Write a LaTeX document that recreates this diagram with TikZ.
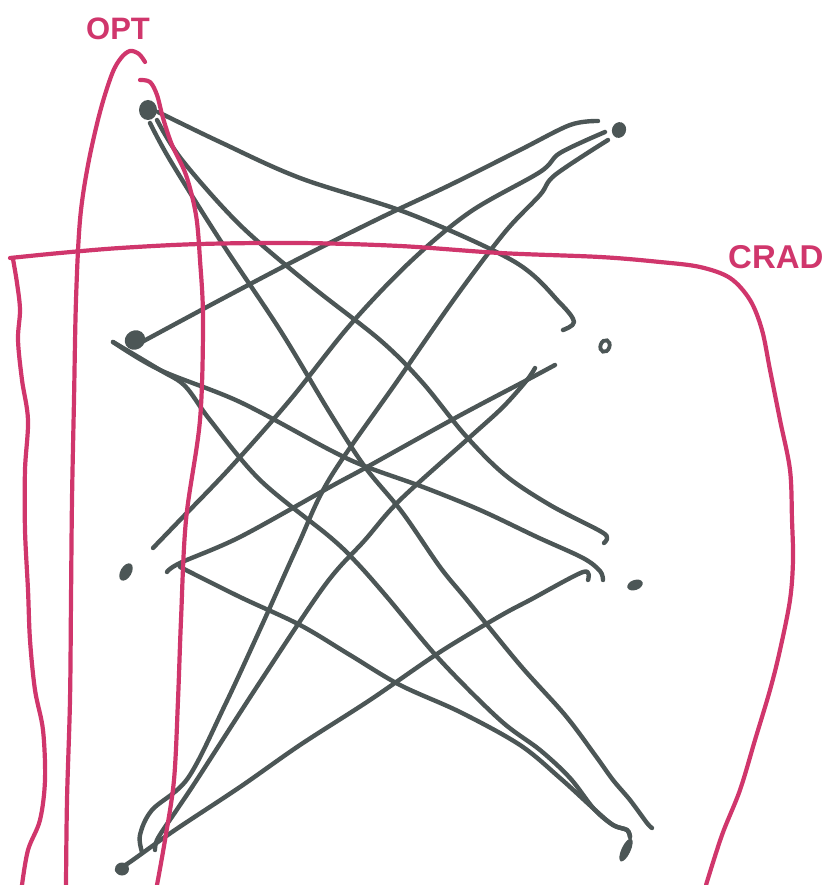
\documentclass[tikz,border=0pt]{standalone}
\usepackage{fontspec}
\setsansfont{Liberation Sans}
\usetikzlibrary{shapes.geometric}
\definecolor{ink}{RGB}{76,86,86}
\definecolor{pen}{RGB}{208,54,108}
\begin{document}
\begin{tikzpicture}[x=1pt,y=-1pt,
  edge/.style={draw=ink,line width=4.4pt,line cap=round,line join=round},
  loopline/.style={draw=pen,line width=4.2pt,line cap=round,line join=round},
  dot/.style={ellipse,fill=ink,inner sep=0pt},
  ring/.style={ellipse,draw=ink,line width=3.8pt,inner sep=0pt},
  lab/.style={text=pen,inner sep=0pt,anchor=base west}]
\useasboundingbox (0,0) rectangle (832,885);

% vertices
\node[dot,minimum width=18pt,minimum height=20pt] (L1) at (148,110) {};
\node[dot,minimum width=21pt,minimum height=19pt,rotate=30] (L2) at (135,340) {};
\node[dot,minimum width=11pt,minimum height=19pt,rotate=-30] (L3) at (126,572) {};
\node[dot,minimum width=14pt,minimum height=13pt] (L4) at (122,869) {};
\node[dot,minimum width=14pt,minimum height=16pt,rotate=-20] (R1) at (619,130) {};
\node[ring,minimum width=9pt,minimum height=12pt,rotate=-20] (R2) at (605,346) {};
\node[dot,minimum width=16pt,minimum height=10pt,rotate=20] (R3) at (635,585) {};
\node[dot,minimum width=9pt,minimum height=25pt,rotate=-25] (R4) at (626,850) {};

% stroke ends
\coordinate (s12) at (158,112); \coordinate (t12) at (563,330);
\coordinate (s13) at (157,120); \coordinate (t13) at (604,543);
\coordinate (s14) at (150,123); \coordinate (t14) at (652,828);
\coordinate (s21) at (140,343); \coordinate (t21) at (598,121);
\coordinate (s23) at (113,342); \coordinate (t23) at (603,580);
\coordinate (s24) at (113,342); \coordinate (t24) at (630,837);
\coordinate (s31) at (153,548); \coordinate (t31) at (605,132);
\coordinate (s32) at (167,572); \coordinate (t32) at (555,365);
\coordinate (s34) at (180,567); \coordinate (t34) at (630,837);
\coordinate (s41) at (142,852); \coordinate (t41) at (608,140);
\coordinate (s42) at (155,850); \coordinate (t42) at (535,368);
\coordinate (s43) at (117,870); \coordinate (t43) at (588,580);

% edges
\draw[edge] plot[smooth,tension=0.55] coordinates {(s12) (220,142) (300,178) (410,214) (515,262) (560,303) (574,322) (t12)};
\draw[edge] plot[smooth,tension=0.55] coordinates {(s13) (182,160) (240,225) (310,285) (380,340) (422,382) (465,435) (505,475) (550,505) (600,531) (607,538) (t13)};
\draw[edge] plot[smooth,tension=0.55] coordinates {(s14) (170,160) (220,240) (280,330) (330,413) (365,467) (402,512) (440,567) (467,600) (520,665) (565,715) (595,755) (613,780) (630,800) (647,823) (t14)};
\draw[edge] plot[smooth,tension=0.55] coordinates {(s21) (220,300) (300,258) (380,218) (450,185) (520,150) (570,125) (t21)};
\draw[edge] plot[smooth,tension=0.55] coordinates {(s23) (160,370) (240,402) (330,450) (367,467) (423,487) (480,510) (537,537) (583,558) (600,571) (t23)};
\draw[edge] plot[smooth,tension=0.55] coordinates {(s24) (160,370) (185,386) (210,420) (260,480) (330,537) (357,563) (387,597) (440,660) (500,720) (540,750) (570,778) (594,809) (613,825) (627,830) (t24)};
\draw[edge] plot[smooth,tension=0.55] coordinates {(s31) (180,520) (230,468) (290,400) (350,325) (410,262) (470,212) (540,172) (560,153) (t31)};
\draw[edge] plot[smooth,tension=0.55] coordinates {(s32) (180,563) (240,537) (330,487) (367,467) (457,417) (527,380) (t32)};
\draw[edge] plot[smooth,tension=0.55] coordinates {(s34) (240,597) (300,625) (350,655) (400,685) (460,712) (520,745) (560,778) (594,809) (613,825) (627,830) (t34)};
\draw[edge] plot[smooth,tension=0.55] coordinates {(s41) (140,835) (152,810) (188,778) (225,705) (262,625) (298,545) (330,478) (398,380) (455,298) (505,232) (540,195) (555,175) (t41)};
\draw[edge] plot[smooth,tension=0.55] coordinates {(s42) (158,838) (178,808) (198,778) (260,682) (325,585) (365,540) (400,500) (470,437) (503,407) (527,380) (t42)};
\draw[edge] plot[smooth,tension=0.55] coordinates {(s43) (130,862) (175,830) (240,787) (300,745) (370,700) (440,652) (500,616) (530,600) (583,572) (t43)};

% OPT region
\coordinate (o1) at (66,885); \coordinate (o2) at (145,62);
\coordinate (o3) at (140,80); \coordinate (o4) at (157,885);
\draw[loopline] plot[smooth,tension=0.55] coordinates {(o1) (67,800) (70,700) (71,600) (72,500) (74,400) (76,300) (80,220) (88,165) (100,112) (112,74) (121,58) (130,51) (139,54) (o2)};
\draw[loopline] plot[smooth,tension=0.55] coordinates {(o3) (150,82) (157,95) (163,118) (172,145) (186,175) (196,215) (200,260) (203,320) (200,420) (186,520) (181,620) (178,700) (174,780) (165,840) (o4)};
\node[lab,font=\sffamily\bfseries\fontsize{31}{31}\selectfont] (opt) at (86,40) {OPT};

% CRAD region
\coordinate (c0) at (10,258); \coordinate (c1) at (13,259);
\coordinate (c2) at (706,885); \coordinate (c3) at (22,885);
\draw[loopline] plot[smooth,tension=0.55] coordinates {(c0) (60,253) (120,248) (200,244) (300,243) (400,246) (500,253) (600,257) (660,262) (700,267) (730,278) (750,300) (762,330) (770,370) (780,420) (790,470) (792,520) (793,560) (790,600) (780,650) (770,690) (755,740) (740,790) (722,835) (c2)};
\draw[loopline] plot[smooth,tension=0.55] coordinates {(c1) (17,283) (20,310) (18,340) (22,380) (28,420) (25,470) (25,530) (28,590) (30,640) (35,690) (43,730) (45,780) (40,820) (28,850) (c3)};
\node[lab,font=\sffamily\bfseries\fontsize{33}{33}\selectfont] (crad) at (728,268) {CRAD};
\end{tikzpicture}
\end{document}
